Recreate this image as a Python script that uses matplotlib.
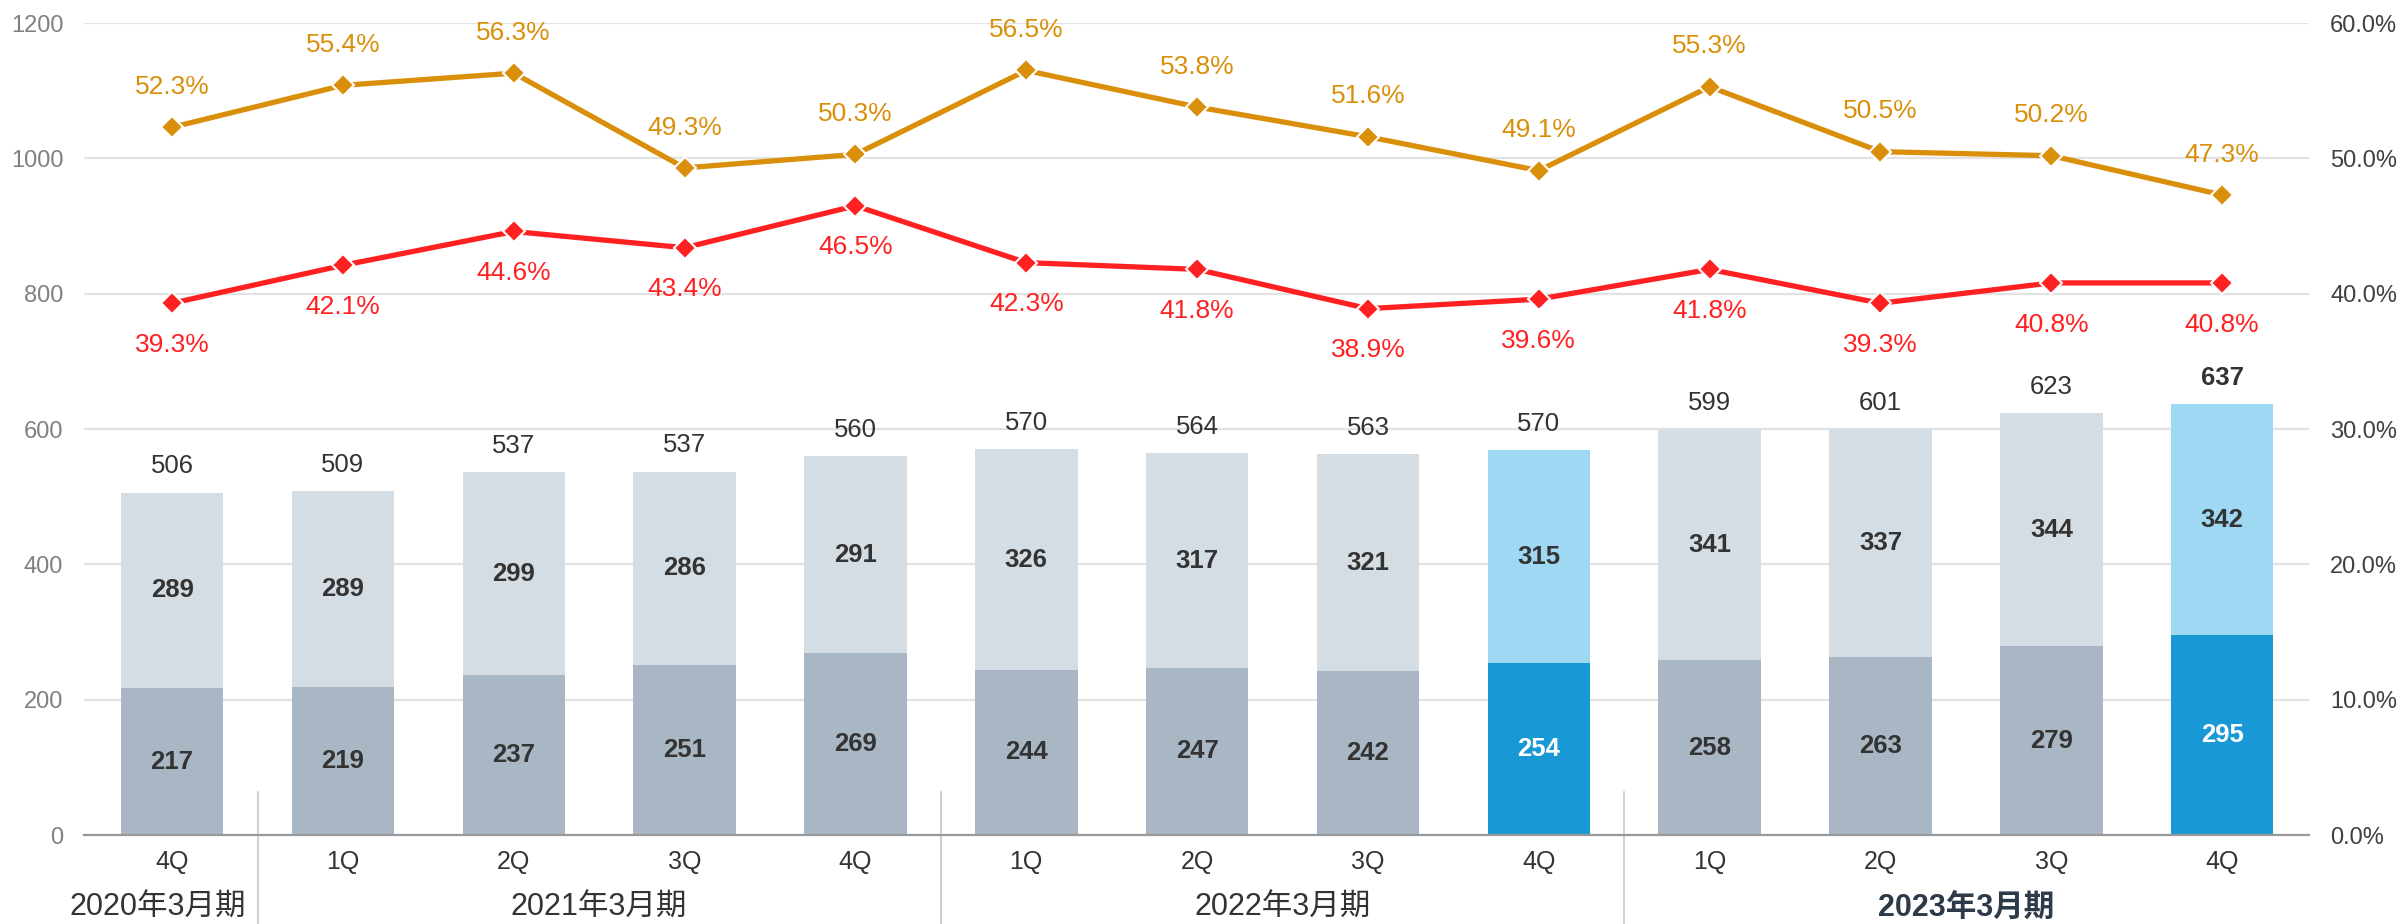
import numpy as np
import matplotlib
matplotlib.use('Agg')
import matplotlib.pyplot as plt
import matplotlib.transforms as mtransforms

plt.rcParams['font.family'] = ['Liberation Sans', 'Noto Sans CJK JP', 'DejaVu Sans']

# data
quarters = ['4Q', '1Q', '2Q', '3Q', '4Q', '1Q', '2Q', '3Q', '4Q', '1Q', '2Q', '3Q', '4Q']
bottom_vals = [217, 219, 237, 251, 269, 244, 247, 242, 254, 258, 263, 279, 295]
top_vals = [289, 289, 299, 286, 291, 326, 317, 321, 315, 341, 337, 344, 342]
totals = [506, 509, 537, 537, 560, 570, 564, 563, 570, 599, 601, 623, 637]
orange_pct = [52.3, 55.4, 56.3, 49.3, 50.3, 56.5, 53.8, 51.6, 49.1, 55.3, 50.5, 50.2, 47.3]
red_pct = [39.3, 42.1, 44.6, 43.4, 46.5, 42.3, 41.8, 38.9, 39.6, 41.8, 39.3, 40.8, 40.8]
years = ['2020年3月期', '2021年3月期', '2022年3月期', '2023年3月期']
year_spans = [(0, 0), (1, 4), (5, 8), (9, 12)]
highlight = [8, 12]

c_bot, c_top = '#A9B7C5', '#D5DDE4'
c_hbot, c_htop = '#1899D6', '#9ED8F2'
c_orange, c_red = '#DA8F0B', '#FF2121'

fig = plt.figure(figsize=(24.03, 9.24), dpi=100)
ax = fig.add_axes([0.035, 0.0963, 0.926, 0.8787])
x = np.arange(len(quarters))

bc = [c_hbot if i in highlight else c_bot for i in x]
tc = [c_htop if i in highlight else c_top for i in x]
ax.bar(x, bottom_vals, width=0.6, color=bc, zorder=2)
ax.bar(x, top_vals, width=0.6, bottom=bottom_vals, color=tc, zorder=2)

for i in x:
    ax.text(i, bottom_vals[i] / 2, str(bottom_vals[i]), ha='center', va='center',
            fontsize=18.5, fontweight='bold', color='white' if i in highlight else '#333333', zorder=3)
    ax.text(i, bottom_vals[i] + top_vals[i] / 2, str(top_vals[i]), ha='center', va='center',
            fontsize=18.5, fontweight='bold', color='#333333', zorder=3)
    ax.annotate(str(totals[i]), (i, bottom_vals[i] + top_vals[i]), xytext=(0, 19),
                textcoords='offset points', ha='center', va='center', fontsize=18.5,
                color='#333333', fontweight='bold' if i == len(x) - 1 else 'normal')

ax.set_xlim(-0.515, 12.51)
ax.set_ylim(0, 1200)
ax.set_yticks(range(0, 1201, 200))
ax.yaxis.grid(True, color='#E2E2E2', linewidth=1.6, zorder=0)
ax.set_axisbelow(True)
ax.tick_params(axis='y', length=0, pad=15, labelsize=17, labelcolor='#808080')
ax.set_xticks(x)
ax.set_xticklabels(quarters)
ax.tick_params(axis='x', length=0, pad=11, labelsize=18, labelcolor='#333333')
for s in ['top', 'right', 'left']:
    ax.spines[s].set_visible(False)
ax.spines['bottom'].set_color('#999999')
ax.spines['bottom'].set_linewidth(1.6)

# right axis with the ratio lines
ax2 = ax.twinx()
ax2.set_ylim(0, 60)
ax2.set_yticks(range(0, 61, 10))
ax2.set_yticklabels([f'{v:.1f}%' for v in range(0, 61, 10)])
ax2.tick_params(axis='y', length=0, pad=15, labelsize=17, labelcolor='#404040')
for s in ax2.spines.values():
    s.set_visible(False)

for vals, col, dy in [(orange_pct, c_orange, 29), (red_pct, c_red, -30)]:
    ax2.plot(x, vals, color=col, linewidth=3.8, marker='D', markersize=11.5,
             markeredgecolor='white', markeredgewidth=1.5, zorder=4)
    for i, v in enumerate(vals):
        ax2.annotate(f'{v:.1f}%', (i, v), xytext=(0, dy), textcoords='offset points',
                     ha='center', va='center', fontsize=19, color=col)

# year group labels and separators
trans = mtransforms.blended_transform_factory(ax.transData, ax.transAxes)
for k, (name, (a, b)) in enumerate(zip(years, year_spans)):
    last = k == len(years) - 1
    if a == b:
        ax.text(b + 0.43, -0.09, name, transform=trans, ha='right', va='center',
                fontsize=22, color='#333333')
    else:
        ax.text((a + b) / 2, -0.09, name, transform=trans, ha='center', va='center',
                fontsize=22, color='#2D3A4A' if last else '#333333',
                fontweight='bold' if last else 'normal')
    if k > 0:
        ax.plot([a - 0.5, a - 0.5], [0.053, -0.115], transform=trans, color='#C8C8C8',
                linewidth=1.2, clip_on=False)

fig.savefig('out.png', dpi=100)
